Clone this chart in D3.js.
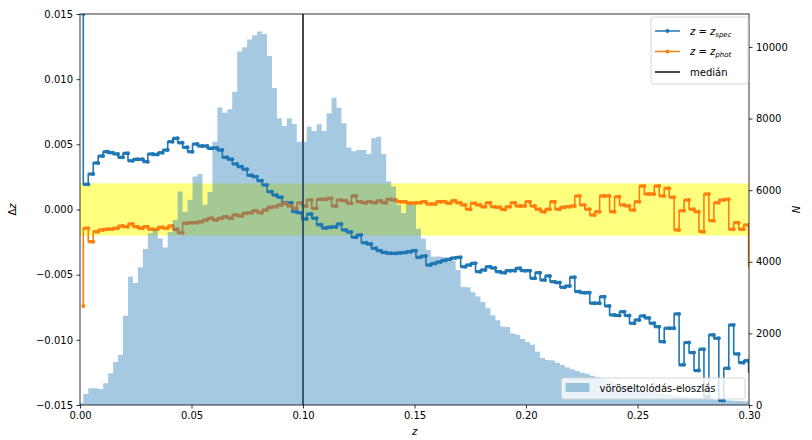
<!DOCTYPE html>
<html lang="hu">
<head>
<meta charset="utf-8">
<title>Δz – vöröseltolódás</title>
<script src="https://cdn.jsdelivr.net/npm/d3@7"></script>
<style>
  body { margin: 0; background: #fff; }
  text { font-family: "DejaVu Sans", sans-serif; font-size: 10px; fill: #000; }
  .tick line { stroke: #000; stroke-width: 0.8px; }
  .domain { display: none; }
</style>
</head>
<body>
<svg width="812" height="440"></svg>
<script>
// histogram bins (z)
const binStart = -0.00075;
const binWidth = 0.0022265;

// galaxies per bin
const histCounts = [
  60, 310, 470, 470, 450, 610, 890, 1200, 1400, 2490,
  3580, 3410, 3850, 4360, 4800, 4890, 4650, 4400, 4830, 5170,
  5960, 5400, 5730, 6380, 6450, 5590, 5950, 7350, 8310, 8160,
  8260, 8750, 9870, 9990, 10210, 10330, 10430, 10360, 9750, 8850,
  8010, 7790, 8010, 7850, 7350, 7350, 7770, 7650, 7840, 7650,
  8150, 8580, 8300, 7870, 7190, 7090, 7120, 7120, 7010, 7450,
  7490, 7010, 6240, 6100, 5590, 5360, 5590, 5590, 4920, 4640,
  4330, 4140, 4150, 4130, 4070, 4020, 3770, 3300, 3290, 3150,
  3030, 2880, 2700, 2510, 2370, 2190, 2180, 2000, 1960, 1840,
  1760, 1680, 1490, 1310, 1260, 1240, 1180, 1120, 1050, 1000,
  950, 900, 870, 820, 780, 740, 700, 660, 610, 570,
  530, 500, 460, 430, 400, 380, 350, 320, 300, 280,
  260, 240, 220, 210, 195, 180, 170, 160, 150, 140,
  130, 125, 120, 110, 105
];

// median Δz per bin, z = z_spec  (x 1e-3)
const dzSpec = [
  15.0, 1.93, 2.72, 3.57, 4.10, 4.43, 4.36, 4.26, 4.00, 4.31,
  3.74, 3.85, 3.85, 3.67, 4.26, 4.22, 4.36, 4.56, 5.20, 5.46,
  5.12, 4.77, 4.43, 5.02, 4.87, 4.87, 4.69, 4.72, 4.56, 4.00,
  3.85, 3.49, 3.28, 3.08, 2.62, 2.52, 2.21, 1.88, 1.37, 1.11,
  0.94, 0.52, 0.52, -0.17, -0.25, -0.72, -0.35, -0.67, -1.17, -1.42,
  -1.36, -1.34, -1.11, -1.57, -1.73, -2.13, -1.96, -2.55, -2.65, -2.98,
  -3.16, -3.30, -3.36, -3.37, -3.34, -3.30, -3.24, -3.16, -3.67, -3.57,
  -4.26, -4.14, -4.03, -3.91, -3.82, -3.72, -3.67, -4.39, -4.26, -4.13,
  -4.77, -4.64, -4.39, -4.49, -4.77, -4.85, -4.69, -4.69, -4.51, -4.69,
  -4.69, -5.28, -4.85, -5.41, -5.10, -5.54, -5.61, -5.97, -5.87, -5.20,
  -6.30, -6.38, -6.38, -7.19, -7.19, -6.69, -7.40, -8.09, -8.13, -7.84,
  -8.14, -8.73, -8.47, -8.17, -8.32, -8.73, -8.99, -10.14, -9.11, -9.11,
  -8.01, -11.92, -10.21, -10.98, -12.36, -10.72, -14.36, -9.62, -9.88, -14.66,
  -12.18, -8.86, -11.08, -11.75, -11.60, -12.44
];

// median Δz per bin, z = z_phot  (x 1e-3)
const dzPhot = [
  -7.40, -1.44, -2.47, -1.70, -1.57, -1.52, -1.50, -1.44, -1.27, -1.32,
  -1.11, -1.32, -1.44, -1.32, -1.52, -1.52, -1.37, -1.44, -1.27, -1.52,
  -1.78, -1.06, -1.01, -1.01, -0.94, -0.81, -0.67, -0.81, -0.67, -0.55,
  -0.67, -0.42, -0.50, -0.29, -0.25, -0.09, -0.25, -0.04, 0.17, 0.21,
  0.35, 0.48, 0.27, 0.09, 0.50, 0.27, 0.73, 0.09, 0.78, 0.78,
  0.86, 0.27, 0.73, 0.67, 0.48, 1.04, 0.60, 0.52, 0.60, 0.52,
  0.67, 0.52, 0.78, 0.73, 0.60, 0.60, 0.48, 0.50, 0.52, 0.60,
  0.42, 0.42, 0.60, 0.60, 0.48, 0.67, 0.52, 0.35, 0.02, 0.48,
  0.35, 0.21, 0.52, 0.21, 0.17, 0.00, 0.21, 0.52, 0.27, 0.27,
  0.60, 0.27, 0.02, -0.17, 0.02, 0.60, 0.02, 0.17, 0.21, 0.27,
  1.04, 0.35, 0.02, -0.42, -0.17, 1.04, 1.04, -0.17, 0.98, 0.35,
  0.27, -0.04, 0.60, 1.80, 1.19, 1.19, 1.80, 1.04, 1.63, 0.94,
  -1.57, -0.09, 0.73, 0.02, -0.17, -1.70, 1.19, -0.86, 0.52, 0.73,
  0.78, -1.52, -1.01, -1.52, -1.19, -4.39
];

const medianZ = 0.1;
const bandLimit = 0.002;

const xTicks = [0, 0.05, 0.10, 0.15, 0.20, 0.25, 0.30];
const yLeftTicks = [-0.015, -0.010, -0.005, 0, 0.005, 0.010, 0.015];
const yRightTicks = [0, 2000, 4000, 6000, 8000, 10000];

const blue = "#1f77b4", orange = "#ff7f0e";

// scales
const x = d3.scaleLinear().domain([0, 0.3]).range([80, 749]);
const yL = d3.scaleLinear().domain([-0.015, 0.015]).range([405, 14]);
const yR = d3.scaleLinear().domain([0, 10920]).range([405, 14]);

const svg = d3.select("svg");

svg.append("clipPath").attr("id", "plot")
  .append("rect")
    .attr("x", x(0)).attr("y", yL(0.015))
    .attr("width", x(0.3) - x(0)).attr("height", yL(-0.015) - yL(0.015));

const plot = svg.append("g").attr("clip-path", "url(#plot)");

// yellow band ±0.002
plot.append("rect")
  .attr("x", x(0)).attr("width", x(0.3) - x(0))
  .attr("y", yL(bandLimit)).attr("height", yL(-bandLimit) - yL(bandLimit))
  .style("fill", "#ffff00").style("opacity", 0.5);

// step lines (steps-pre), point i at right edge of bin i
function drawSeries(values, color) {
  const pts = values.map((v, i) => ({ z: binStart + (i + 1) * binWidth, v: v * 1e-3 }));
  const line = d3.line()
    .x(d => x(d.z)).y(d => yL(d.v))
    .curve(d3.curveStepBefore);
  const g = plot.append("g");
  g.append("path")
    .datum(pts)
    .attr("d", line)
    .style("fill", "none").style("stroke", color).style("stroke-width", 1.6);
  // the dense '.' markers make each step's flat part look heavier
  g.selectAll("line.flat")
    .data(pts.slice(1))
    .enter()
    .append("line")
      .classed("flat", true)
      .attr("x1", d => x(d.z - binWidth)).attr("x2", d => x(d.z))
      .attr("y1", d => yL(d.v)).attr("y2", d => yL(d.v))
      .style("stroke", color).style("stroke-width", 3.2);
  g.selectAll("circle")
    .data(pts)
    .enter()
    .append("circle")
      .attr("cx", d => x(d.z)).attr("cy", d => yL(d.v)).attr("r", 2)
      .style("fill", color);
}
drawSeries(dzSpec, blue);
drawSeries(dzPhot, orange);

// median
plot.append("line")
  .attr("x1", x(medianZ)).attr("x2", x(medianZ))
  .attr("y1", yL(0.015)).attr("y2", yL(-0.015))
  .style("stroke", "#333").style("stroke-width", 1.8);

// histogram (twin axis, drawn on top) as one stepped area
const histPts = histCounts.map((c, k) => ({ z: binStart + k * binWidth, c: c }));
histPts.push({ z: binStart + histCounts.length * binWidth, c: histCounts[histCounts.length - 1] });
const histArea = d3.area()
  .x(d => x(d.z)).y0(yR(0)).y1(d => yR(d.c))
  .curve(d3.curveStepAfter);
plot.append("path")
  .datum(histPts)
  .attr("d", histArea)
  .style("fill", blue).style("fill-opacity", 0.4);

// frame
svg.append("rect")
  .attr("x", x(0)).attr("y", yL(0.015))
  .attr("width", x(0.3) - x(0)).attr("height", yL(-0.015) - yL(0.015))
  .style("fill", "none").style("stroke", "#000").style("stroke-width", 0.8);

// axes
const axB = d3.axisBottom(x).tickValues(xTicks).tickFormat(d3.format(".2f")).tickSize(3.5).tickPadding(3.5);
const axL = d3.axisLeft(yL).tickValues(yLeftTicks).tickFormat(d3.format(".3f")).tickSize(3.5).tickPadding(3.5);
const axR = d3.axisRight(yR).tickValues(yRightTicks).tickFormat(d3.format("d")).tickSize(3.5).tickPadding(3.5);

svg.append("g").attr("transform", `translate(0, ${yL(-0.015)})`).call(axB);
svg.append("g").attr("transform", `translate(${x(0)}, 0)`).call(axL);
svg.append("g").attr("transform", `translate(${x(0.3)}, 0)`).call(axR);
svg.selectAll(".tick text").style("font-family", "DejaVu Sans").style("font-size", "10px").style("fill", "#000");

// axis labels
const yMid = (yL(0.015) + yL(-0.015)) / 2;
const labL = svg.append("text")
  .attr("transform", `translate(16, ${yMid}) rotate(-90)`)
  .style("text-anchor", "middle");
labL.append("tspan").text("Δ");
labL.append("tspan").style("font-style", "italic").text("z");

svg.append("text")
  .attr("x", (x(0) + x(0.3)) / 2).attr("y", 435)
  .style("text-anchor", "middle").style("font-style", "italic")
  .text("z");

svg.append("text")
  .attr("transform", `translate(800, ${yMid}) rotate(-90)`)
  .style("text-anchor", "middle").style("font-style", "italic")
  .text("N");

// legend (lines)
const leg1 = svg.append("g").attr("transform", "translate(651, 17)");
leg1.append("rect")
  .attr("width", 97).attr("height", 67).attr("rx", 2.5)
  .style("fill", "#fff").style("fill-opacity", 0.8)
  .style("stroke", "#d6d6d6").style("stroke-width", 1);

const legItems = [
  { color: blue, dot: true, sub: "spec" },
  { color: orange, dot: true, sub: "phot" },
  { color: "#333", dot: false, label: "medián" }
];
legItems.forEach((it, i) => {
  const ly = 14 + i * 20.5;
  leg1.append("line")
    .attr("x1", 4).attr("x2", 29).attr("y1", ly).attr("y2", ly)
    .style("stroke", it.color).style("stroke-width", it.dot ? 1.5 : 1.8);
  if (it.dot) {
    leg1.append("circle").attr("cx", 16.5).attr("cy", ly).attr("r", 2).style("fill", it.color);
  }
  const t = leg1.append("text").attr("x", 39).attr("y", ly + 3.6);
  if (it.label) {
    t.text(it.label);
  } else {
    t.append("tspan").style("font-style", "italic").text("z");
    t.append("tspan").text(" = ");
    t.append("tspan").style("font-style", "italic").text("z");
    t.append("tspan").style("font-style", "italic").style("font-size", "7px")
      .attr("dy", 2).text(it.sub);
  }
});

// legend (histogram)
const leg2 = svg.append("g").attr("transform", "translate(561.5, 378)");
leg2.append("rect")
  .attr("width", 183.5).attr("height", 21).attr("rx", 2.5)
  .style("fill", "#fff").style("fill-opacity", 0.8)
  .style("stroke", "#d6d6d6").style("stroke-width", 1);
leg2.append("rect")
  .attr("x", 4).attr("y", 5).attr("width", 24).attr("height", 9)
  .style("fill", blue).style("opacity", 0.4);
leg2.append("text").attr("x", 38).attr("y", 13.5).text("vöröseltolódás-eloszlás");
</script>
</body>
</html>
